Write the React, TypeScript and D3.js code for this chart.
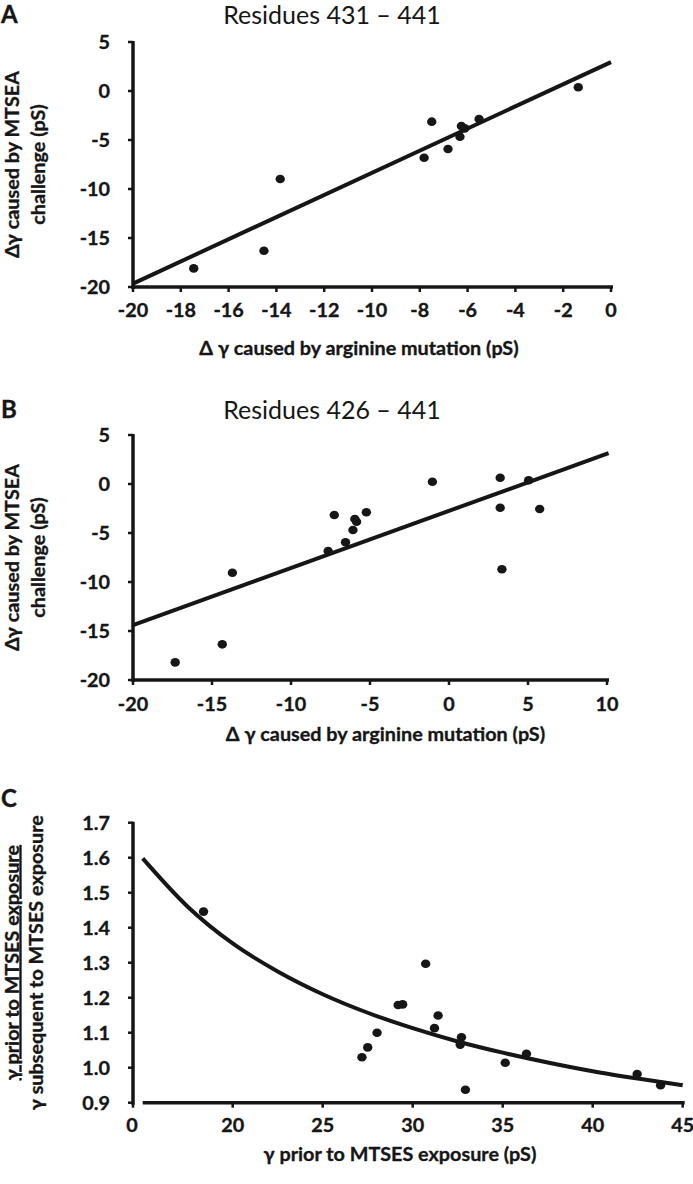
import React from 'react';
import * as d3 from 'd3';

// ---------- Panel A : residues 431-441 ----------
const aMutation = [-17.46, -14.52, -13.84, -7.82, -7.5, -6.82, -6.32, -6.26, -6.12, -5.52, -1.37];
const aMtsea = [-18.1, -16.3, -8.98, -6.81, -3.13, -5.92, -4.66, -3.57, -3.81, -2.86, 0.38];
const aFitX = [-20, 0];
const aFitY = [-19.65, 2.95];
const aXTicks = [-20, -18, -16, -14, -12, -10, -8, -6, -4, -2, 0];
const abYTicks = [-20, -15, -10, -5, 0, 5];

// ---------- Panel B : residues 426-441 ----------
const bMutation = [-17.33, -14.35, -13.71, -7.65, -7.26, -6.55, -6.08, -5.96, -5.85, -5.23, -1.05, 3.24, 3.24, 3.35, 5.04, 5.74];
const bMtsea = [-18.2, -16.36, -9.05, -6.84, -3.16, -5.95, -4.69, -3.57, -3.85, -2.89, 0.23, 0.64, -2.42, -8.7, 0.38, -2.55];
const bFitX = [-20, 10.1];
const bFitY = [-14.4, 3.15];
const bXTicks = [-20, -15, -10, -5, 0, 5, 10];

// ---------- Panel C : MTSES ----------
const cPrior = [18.38, 27.18, 27.5, 28.02, 29.19, 29.44, 30.72, 31.21, 31.41, 32.71, 32.64, 32.93, 35.14, 36.32, 42.47, 43.77];
const cRatio = [1.446, 1.03, 1.058, 1.1, 1.179, 1.181, 1.297, 1.113, 1.149, 1.087, 1.066, 0.937, 1.014, 1.04, 0.982, 0.95];
const cCurveX = [15, 17.5, 20, 22.5, 25, 27.5, 30, 32.5, 35, 37.5, 40, 42.5, 45];
const cCurveY = [1.598, 1.46, 1.355, 1.275, 1.21, 1.157, 1.113, 1.075, 1.043, 1.015, 0.99, 0.969, 0.95];
const cXTicks = [20, 25, 30, 35, 40, 45];
const cYTicks = [0.9, 1.0, 1.1, 1.2, 1.3, 1.4, 1.5, 1.6, 1.7];

const FONT = "Lato, 'Open Sans', sans-serif";
const INK = '#161616';
const AXW = 3.5;
const TICK_FS = 19.8;
const LABEL_FS = 19.8;
const BOLD: any = { fontFamily: FONT, fontWeight: 700, fill: INK, stroke: INK, strokeWidth: 0.35 };

function LinearPanel(props: any) {
  const { xs, ys, fitX, fitY, xTicks, yTicks, xRange, yRange, letter, letterY, title, titleY, xLabelX, xLabelY, tickLabelY } = props;
  const x = d3.scaleLinear().domain([xTicks[0], xTicks[xTicks.length - 1]]).range(xRange);
  const y = d3.scaleLinear().domain([yTicks[0], yTicks[yTicks.length - 1]]).range(yRange);
  const axisX = xRange[0];
  const axisY = yRange[0];
  const line = d3.line<number>().x((d, i) => x(fitX[i])).y((d, i) => y(fitY[i]));
  const yMid = (yRange[0] + yRange[1]) / 2;
  return (
    <g>
      <text x={1} y={letterY} {...BOLD} fontSize={24}>{letter}</text>
      <text x={332} y={titleY} textAnchor="middle" fontFamily={FONT} fontSize={25} fill={INK}>{title}</text>
      {/* y label */}
      <g transform={`translate(18.5, ${yMid}) rotate(-90)`}>
        <text textAnchor="middle" {...BOLD} fontSize={LABEL_FS}>{'\u0394\u03b3 caused by MTSEA'}</text>
      </g>
      <g transform={`translate(44.5, ${yMid}) rotate(-90)`}>
        <text textAnchor="middle" {...BOLD} fontSize={LABEL_FS}>challenge (pS)</text>
      </g>
      {/* axes */}
      <line x1={axisX} x2={axisX} y1={y(yTicks[yTicks.length - 1]) - 1} y2={axisY + 2} stroke={INK} strokeWidth={AXW} />
      <line x1={axisX - 1} x2={x(xTicks[xTicks.length - 1]) + 2} y1={axisY} y2={axisY} stroke={INK} strokeWidth={AXW} />
      {yTicks.map((t: number) => (
        <g key={'yt' + t}>
          <line x1={axisX - 5} x2={axisX} y1={y(t)} y2={y(t)} stroke={INK} strokeWidth={2.5} />
          <text x={110} y={y(t) + 7} textAnchor="end" {...BOLD} fontSize={TICK_FS}>{String(t)}</text>
        </g>
      ))}
      {xTicks.map((t: number) => (
        <g key={'xt' + t}>
          <line x1={x(t)} x2={x(t)} y1={axisY} y2={axisY + 5} stroke={INK} strokeWidth={2.5} />
          <text x={x(t)} y={tickLabelY} textAnchor="middle" {...BOLD} fontSize={TICK_FS}>{String(t)}</text>
        </g>
      ))}
      <text x={xLabelX} y={xLabelY} textAnchor="middle" {...BOLD} fontSize={LABEL_FS}>{'\u0394 \u03b3 caused by arginine mutation (pS)'}</text>
      <path d={line(fitX) || ''} fill="none" stroke={INK} strokeWidth={4} />
      {xs.map((v: number, i: number) => (
        <ellipse key={'p' + i} cx={x(v)} cy={y(ys[i])} rx={4.7} ry={4.3} fill={INK} />
      ))}
    </g>
  );
}

function PanelC() {
  const x = d3.scaleLinear().domain([15, 45]).range([142.7, 682.7]);
  const y = d3.scaleLinear().domain([0.9, 1.7]).range([1102.7, 822.7]);
  const axisX = 133;
  const axisY = y(0.9);
  const curve = d3.line<number>().x((d, i) => x(cCurveX[i])).y((d, i) => y(cCurveY[i])).curve(d3.curveMonotoneX);
  const yMid = (y(0.9) + y(1.7)) / 2;
  return (
    <g>
      <text x={1} y={806.5} {...BOLD} fontSize={24}>C</text>
      <g transform={`translate(18.5, ${yMid}) rotate(-90)`}>
        <text textAnchor="middle" {...BOLD} fontSize={LABEL_FS} textDecoration="underline" style={{ textDecoration: 'underline' }}>{'\u03b3 prior to MTSES exposure'}</text>
      </g>
      <g transform={`translate(43, ${yMid}) rotate(-90)`}>
        <text textAnchor="middle" {...BOLD} fontSize={LABEL_FS}>{'\u03b3 subsequent to MTSES exposure'}</text>
      </g>
      <line x1={axisX} x2={axisX} y1={y(1.7) - 1} y2={axisY + 2} stroke={INK} strokeWidth={AXW} />
      <line x1={x(15)} x2={x(45) + 2} y1={axisY} y2={axisY} stroke={INK} strokeWidth={AXW} />
      {cYTicks.map((t) => (
        <g key={'cy' + t}>
          <line x1={axisX - 5} x2={axisX} y1={y(t)} y2={y(t)} stroke={INK} strokeWidth={2.5} />
          <text x={110} y={y(t) + 7} textAnchor="end" {...BOLD} fontSize={TICK_FS}>{t.toFixed(1)}</text>
        </g>
      ))}
      <line x1={axisX} x2={axisX} y1={axisY} y2={axisY + 5} stroke={INK} strokeWidth={2.5} />
      <text x={axisX - 1} y={axisY + 29.5} textAnchor="middle" {...BOLD} fontSize={TICK_FS}>0</text>
      {cXTicks.map((t) => (
        <g key={'cx' + t}>
          <line x1={x(t)} x2={x(t)} y1={axisY} y2={axisY + 5} stroke={INK} strokeWidth={2.5} />
          <text x={x(t)} y={axisY + 29.5} textAnchor="middle" {...BOLD} fontSize={TICK_FS}>{String(t)}</text>
        </g>
      ))}
      <text x={400} y={1161} textAnchor="middle" {...BOLD} fontSize={LABEL_FS}>{'\u03b3 prior to MTSES exposure (pS)'}</text>
      <path d={curve(cCurveX) || ''} fill="none" stroke={INK} strokeWidth={4} />
      {cPrior.map((v, i) => (
        <ellipse key={'c' + i} cx={x(v)} cy={y(cRatio[i])} rx={4.7} ry={4.3} fill={INK} />
      ))}
    </g>
  );
}

export default function App() {
  return (
    <svg width={693} height={1184} viewBox="0 0 693 1184" style={{ position: 'absolute', left: 0, top: 0, background: '#fff' }}>
      <rect x={0} y={0} width={693} height={1184} fill="#fff" />
      <LinearPanel xs={aMutation} ys={aMtsea} fitX={aFitX} fitY={aFitY} xTicks={aXTicks} yTicks={abYTicks}
        xRange={[133, 611]} yRange={[287, 42]} letter="A" letterY={23} title={'Residues 431 \u2013 441'} titleY={24}
        xLabelX={359} xLabelY={355} tickLabelY={317} />
      <LinearPanel xs={bMutation} ys={bMtsea} fitX={bFitX} fitY={bFitY} xTicks={bXTicks} yTicks={abYTicks}
        xRange={[133, 607]} yRange={[680, 435]} letter="B" letterY={418} title={'Residues 426 \u2013 441'} titleY={419}
        xLabelX={385.5} xLabelY={740.5} tickLabelY={711} />
      <PanelC />
    </svg>
  );
}
